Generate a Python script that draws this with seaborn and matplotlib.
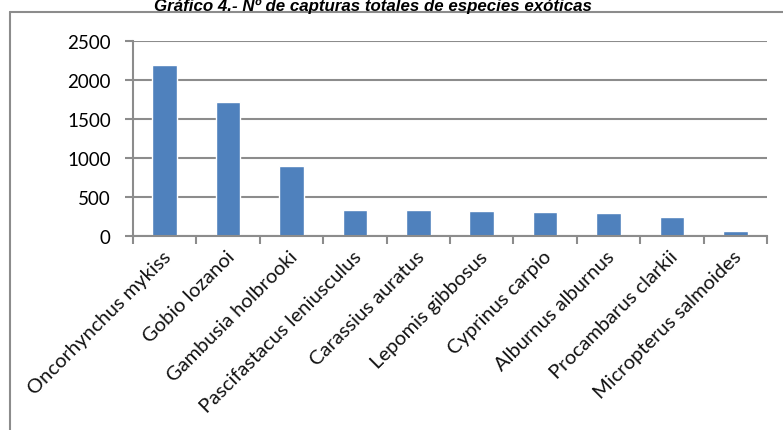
import matplotlib
matplotlib.use("Agg")
import matplotlib.pyplot as plt
import seaborn as sns
import pandas as pd
from matplotlib.lines import Line2D

species = ["Oncorhynchus mykiss", "Gobio lozanoi", "Gambusia holbrooki",
           "Pascifastacus leniusculus", "Carassius auratus", "Lepomis gibbosus",
           "Cyprinus carpio", "Alburnus alburnus", "Procambarus clarkii",
           "Micropterus salmoides"]
captures = [2195, 1717, 893, 330, 327, 318, 309, 300, 240, 60]
yticks = [0, 500, 1000, 1500, 2000, 2500]
title = "Gráfico 4.- Nº de capturas totales de especies exóticas"

sns.set_theme(style="white")
plt.rcParams['font.family'] = ['Lato', 'DejaVu Sans']

df = pd.DataFrame({"species": species, "captures": captures})

fig = plt.figure(figsize=(7.83, 4.31), dpi=100)
ax = fig.add_axes([133/783, 1-237/431, (767-133)/783, (237-42)/431])

sns.barplot(data=df, x="species", y="captures", color="#4F81BD",
            width=0.39, ax=ax, saturation=1)

ax.set_ylim(0, 2500)
ax.set_xlim(-0.5, len(species)-0.5)
ax.set_yticks(yticks)
ax.set_yticklabels([str(v) for v in yticks], fontsize=13.5, color="black")
ax.yaxis.grid(True, color="#8c8c8c", linewidth=1.5)
ax.set_axisbelow(True)
ax.set_xlabel("")
ax.set_ylabel("")

for s in ["top", "right"]:
    ax.spines[s].set_visible(False)
for s in ["left", "bottom"]:
    ax.spines[s].set_visible(True)
    ax.spines[s].set_color("#8c8c8c")
    ax.spines[s].set_linewidth(1.5)

# x ticks at category boundaries
ax.set_xticks([i - 0.5 for i in range(len(species)+1)], minor=False)
ax.set_xticklabels([])
ax.tick_params(axis="x", which="major", direction="out", length=6,
               width=1.5, color="#8c8c8c", bottom=True)
ax.tick_params(axis="y", direction="out", length=6, width=1.5,
               color="#8c8c8c", left=True, pad=10)

for i, name in enumerate(species):
    ax.text(i - 0.04, -150, name, rotation=45, ha="right", va="top",
            rotation_mode="anchor", fontsize=14.5, color="#111111",
            transform=ax.transData, clip_on=False)

# outer frame (top and left visible)
W, H = 783, 431
fig.add_artist(Line2D([10/W, 10/W], [0, 1-13/H], color="#8c8c8c",
                      linewidth=1.5, transform=fig.transFigure))
fig.add_artist(Line2D([10/W, 1], [1-13/H, 1-13/H], color="#8c8c8c",
                      linewidth=1.5, transform=fig.transFigure))

fig.text(373/W, 1-6.5/H, title, ha="center", va="center", fontsize=12.2,
         fontweight="bold", fontstyle="italic", family=["Liberation Sans"],
         color="black")

fig.savefig("out.png", dpi=100)
